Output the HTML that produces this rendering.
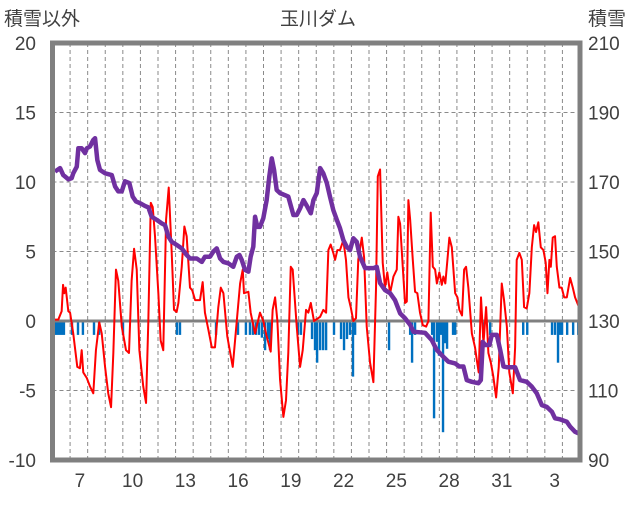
<!DOCTYPE html>
<html><head><meta charset="utf-8"><style>
html,body{margin:0;padding:0;background:#fff;}
svg text{font-family:"Liberation Sans","Noto Sans CJK JP",sans-serif;fill:#404040;}
</style></head><body>
<svg id="chart" width="636" height="501" xmlns="http://www.w3.org/2000/svg">
<text x="4" y="25" font-size="19">積雪以外</text>
<text x="318" y="25" font-size="19" text-anchor="middle">玉川ダム</text>
<text x="588" y="25" font-size="19">積雪</text>
<g id="grid"></g>
<g id="bars"></g>
<g id="lines"></g>
<g id="axes"></g>
</svg>
<script>
const leftTicks=[-10,-5,0,5,10,15,20];
const rightTicks=[90,110,130,150,170,190,210];
const dayLabels=["7","10","13","16","19","22","25","28","31","3"];
const dayLabelIdx=[1,4,7,10,13,16,19,22,25,28];
const redT=[0.05,0.33,0.52,0.6,0.67,0.75,0.9,1.0,1.18,1.41,1.56,1.66,1.75,1.95,2.13,2.32,2.47,2.66,2.8,2.99,3.17,3.33,3.46,3.61,3.74,3.94,4.18,4.35,4.5,4.64,4.79,4.94,5.16,5.32,5.45,5.59,5.7,5.83,6.02,6.15,6.3,6.46,6.61,6.78,6.91,7.06,7.16,7.35,7.5,7.63,7.82,7.95,8.11,8.39,8.54,8.67,8.86,9.06,9.24,9.43,9.57,9.72,9.94,10.25,10.48,10.67,10.82,10.89,11.14,11.27,11.52,11.8,11.99,12.18,12.41,12.52,12.66,12.79,12.94,13.13,13.28,13.41,13.55,13.66,13.89,14.08,14.23,14.42,14.55,14.69,14.87,15.22,15.4,15.56,15.69,15.82,15.97,16.07,16.2,16.35,16.54,16.69,16.83,16.96,17.11,17.26,17.39,17.59,17.72,17.87,18.06,18.25,18.4,18.5,18.63,18.78,18.91,19.04,19.2,19.39,19.58,19.67,19.77,19.92,20.05,20.15,20.24,20.34,20.49,20.62,20.75,20.9,21.06,21.25,21.38,21.51,21.63,21.76,21.86,22,22.14,22.23,22.34,22.46,22.57,22.71,22.9,23.03,23.14,23.29,23.41,23.52,23.65,23.85,24.03,24.13,24.24,24.37,24.51,24.66,24.79,24.93,25.07,25.23,25.38,25.55,25.68,25.84,25.98,26.18,26.31,26.4,26.55,26.69,26.82,26.97,27.12,27.26,27.39,27.5,27.63,27.77,27.92,28.05,28.15,28.26,28.34,28.45,28.58,28.68,28.83,28.96,29.1,29.25,29.44,29.59,29.72,29.91];
const redV=[0.1,0.1,0.7,2.6,2,2.4,0.7,0.6,-0.9,-3.3,-3.4,-2.1,-3.7,-4.1,-4.7,-5.2,-2.1,-0.1,-0.9,-3.3,-5.2,-6.2,-2.3,3.7,2.9,-0.4,-2.1,-2.3,2.9,5.2,3.7,-2.1,-4.7,-5.9,0,8.5,8.2,6.1,2,-1.4,-2.1,7.3,9.6,4.9,0.8,0.65,1.3,3.9,6.8,6.1,2.4,2.2,1.5,1.5,2.8,0.6,-0.6,-1.9,-1.9,1,2.4,2,-1.1,-3.3,0,2.7,3.7,2,2.1,0.6,-0.9,0.6,0,-1.1,-2.2,0.8,1.7,0,-4.2,-6.9,-5.7,-2.3,3.9,3.7,-0.4,-3.3,-2.1,0.8,0.6,1.3,0,0.3,0.8,0.6,5.1,5.5,4.9,4.4,5.1,5.1,5.8,4.4,1.7,1,0,0.2,4.4,6,4.6,-0.4,-3,-4.4,2.4,10.4,10.9,4.2,2.4,3.5,2,3.2,3.7,7.5,7,3.9,1.3,1.4,8.7,7.3,4.4,2.1,2,0.6,-0.3,-0.4,0,7.8,3.9,3.7,2.7,3.5,2.6,3.2,2.7,4.4,6,5.3,2,1.7,0.8,0.4,3.7,3.9,2.4,-0.9,-1.9,-2.8,-3.7,1.7,-1.6,1,-2.3,-3,-4,-5.5,-3.3,2.7,1.5,-0.4,-3.7,-5.2,-1.9,4.4,4.9,4.4,1,0.9,2,5.3,6.9,6.4,7.1,5.3,5.1,4.2,2,4.4,3.9,6,6.1,3.9,2.4,2.4,1.7,1.7,3.1,2.4,1.7,1.1];
const snowT=[0.14,0.43,0.61,0.9,1.09,1.18,1.38,1.47,1.66,1.85,1.95,2.13,2.32,2.42,2.55,2.7,2.99,3.37,3.56,3.74,3.94,4.12,4.37,4.56,4.75,4.98,5.26,5.45,5.64,5.93,6.21,6.4,6.59,6.78,7.06,7.35,7.63,7.82,8.2,8.49,8.67,8.96,9.15,9.34,9.53,9.72,10,10.28,10.48,10.63,10.76,10.95,11.14,11.27,11.42,11.52,11.65,11.8,11.99,12.18,12.33,12.47,12.6,12.75,12.94,13.41,13.7,13.89,14.08,14.27,14.49,14.69,14.84,15.03,15.22,15.4,15.6,15.78,15.97,16.17,16.35,16.54,16.73,16.92,17.11,17.3,17.49,17.78,18.25,18.44,18.63,18.91,19.2,19.48,19.77,20.05,20.34,20.53,21.19,21.57,21.85,22.23,22.51,22.9,23.14,23.37,23.56,23.85,24.22,24.36,24.47,24.6,24.85,24.98,25.27,25.46,25.65,25.84,26.31,26.59,26.97,27.26,27.54,27.83,28.11,28.4,28.58,28.87,29.25,29.44,29.72,29.91];
const snowV=[173,174,172,170.8,171.1,172.5,174.4,179.7,179.7,178.3,179.7,180.2,182.1,182.6,176.3,173.5,172.5,172,168.7,167.3,167.3,170.2,169.7,165.8,164.4,163.9,163.1,162.7,160,159.1,158.1,157.6,154.3,152.8,151.9,150.9,149,148,148,147,148.5,148.5,150,150.9,148,147,146.6,145.6,148.5,149,147.6,144.7,144.2,148.5,151.4,160,157.1,157.1,159.6,164.8,171.6,176.8,173.5,167.7,166.8,165.8,160.5,160.5,162.4,164.8,162.9,161,164.8,166.8,174,172.5,169.7,165.8,161.9,159.1,156.7,153.3,151.4,150.4,153.8,152.8,148.5,145.2,145.2,145.6,140.9,138.9,138,136,132.2,130.8,128.9,126.9,126.6,124.5,121.7,119.7,118.3,117.8,116.9,116.9,113,112.5,112.1,113,124,123.1,123.1,126,126,121.7,116.9,116.7,116.7,113,112.5,111.1,109.2,105.8,105.3,103.9,102,101.7,101,99.6,98.1,97.7];
const barT=[0.09,0.2,0.31,0.43,0.54,0.65,1.11,1.45,1.73,2.36,2.65,4.01,7.08,7.25,9.3,10.55,11,11.23,11.4,11.57,11.74,11.91,12.09,12.26,12.37,13.96,14.13,14.76,14.93,15.05,15.22,15.39,15.56,16.01,16.41,16.58,16.75,16.92,17.09,17.21,19.14,20.34,20.45,20.62,21.59,21.7,21.87,21.98,22.1,22.21,22.33,22.44,22.78,22.9,24.5,24.89,26.77,27,28.41,28.58,28.75,28.87,28.98,29.27,29.61,29.9];
const barV=[-1,-1,-1,-1,-1,-1,-1,-1,-1,-1,-1,-1,-1,-1,-1,-1,-1,-1,-1,-1,-1,-1.2,-2.1,-1.3,-2.1,-1,-1,-1.3,-2.1,-3,-2.1,-2.1,-2.1,-1,-1.3,-2.1,-1.3,-1,-4,-1,-2.1,-1,-3,-1,-1,-7,-1.5,-2.5,-1,-8,-1.6,-2,-1,-1,-1.2,-1,-1,-1,-1,-1,-3,-1,-1,-1,-1,-1];

const NS="http://www.w3.org/2000/svg";
const L=52.5,R=580,T=43,B=460,ND=30;
const x=t=>L+t*(R-L)/ND;
const yL=v=>B-(v+10)*(B-T)/30;
const yR=v=>B-(v-90)*(B-T)/120;
function mk(tag,parent,attrs){const e=document.createElementNS(NS,tag);for(const k in attrs)e.setAttribute(k,attrs[k]);parent.appendChild(e);return e;}
const grid=document.getElementById('grid'),bars=document.getElementById('bars'),lines=document.getElementById('lines'),axes=document.getElementById('axes');
for(let d=1;d<ND;d++){
  const g=mk('line',grid,{x1:x(d),x2:x(d),y1:T,y2:B,stroke:'#8a8a8a','stroke-width':1,'stroke-dasharray':'4,3'});
  
  
}
leftTicks.forEach((v,i)=>{
  if(v!==0&&v!==-10&&v!==20){
    const g=mk('line',grid,{x1:L,x2:R,y1:yL(v),y2:yL(v),stroke:'#8a8a8a','stroke-width':1,'stroke-dasharray':'4,3'});
    
    
  }
  const t=mk('text',axes,{x:36,y:yL(v)+7,'font-size':19,'text-anchor':'end'});t.textContent=v;
  
  
  const r=mk('text',axes,{x:588,y:yR(rightTicks[i])+7,'font-size':19});r.textContent=rightTicks[i];
  
  
});
dayLabels.forEach((s,i)=>{
  const t=mk('text',axes,{x:x(dayLabelIdx[i]+0.5)+1,y:487,'font-size':19,'text-anchor':'middle'});t.textContent=s;
  
  
});
barT.forEach((t,i)=>{
  const b=mk('rect',bars,{x:x(t)-1.2,y:yL(0),width:2.4,height:yL(barV[i])-yL(0),fill:'#0070C0'});
  
  
});
const z=mk('line',lines,{x1:L,x2:R,y1:yL(0),y2:yL(0),stroke:'#808080','stroke-width':3});


const red=mk('polyline',lines,{points:redT.map((t,i)=>x(t)+','+yL(redV[i])).join(' '),fill:'none',stroke:'#FF0000','stroke-width':2,'stroke-linejoin':'round'});


const snow=mk('polyline',lines,{points:snowT.map((t,i)=>x(t)+','+yR(snowV[i])).join(' '),fill:'none',stroke:'#7030A0','stroke-width':4.5,'stroke-linejoin':'round'});


const fr=mk('rect',axes,{x:L,y:T,width:R-L,height:B-T,fill:'none',stroke:'#808080','stroke-width':5});


</script>
</body></html>
